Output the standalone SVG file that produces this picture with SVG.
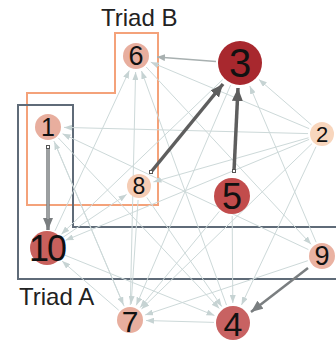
<svg xmlns="http://www.w3.org/2000/svg" width="336" height="344" viewBox="0 0 336 344">
<style>
.e{stroke:#cdd9d9;stroke-width:1;fill:none;marker-end:url(#al)}
.lab{font-family:"Liberation Sans",Arial,sans-serif;fill:#111;text-anchor:middle;dominant-baseline:central}
.title{font-family:"Liberation Sans",Arial,sans-serif;fill:#222;font-size:24px}
.sq{fill:#fff;stroke:#555;stroke-width:1}
</style>
<defs>
<marker id="al" markerUnits="userSpaceOnUse" markerWidth="8" markerHeight="6" refX="8" refY="3" orient="auto"><path d="M0,0 L8,3 L0,6 z" fill="#c6d3d3"/></marker>
<marker id="ad" markerUnits="userSpaceOnUse" markerWidth="13" markerHeight="11" refX="13" refY="5.5" orient="auto"><path d="M0,0 L13,5.5 L0,11 z" fill="#5e5e5e"/></marker>
<marker id="am" markerUnits="userSpaceOnUse" markerWidth="12" markerHeight="10" refX="12" refY="5" orient="auto"><path d="M0,0 L12,5 L0,10 z" fill="#7a7e80"/></marker>
<marker id="ag" markerUnits="userSpaceOnUse" markerWidth="8" markerHeight="7" refX="8" refY="3.5" orient="auto"><path d="M0,0 L8,3.5 L0,7 z" fill="#a8b0b0"/></marker>
</defs>
<rect width="336" height="344" fill="#fff"/>
<g id="groups">
<polygon points="115,33 158,33 158,205 27,205 27,93 115,93" fill="none" stroke="#f4a27a" stroke-width="2"/>
<polygon points="18,105 73,105 73,227 345,227 345,279 18,279" fill="none" stroke="#5f6b78" stroke-width="2"/>
<text class="title" x="101" y="26">Triad B</text>
<text class="title" x="19" y="305">Triad A</text>
</g>
<g id="connectors">
<line class="e" x1="308" y1="133.6" x2="64" y2="127.4"/>
<line class="e" x1="124.1" y1="306.2" x2="54.3" y2="141.7"/>
<line class="e" x1="53.9" y1="141" x2="123.5" y2="305"/>
<line class="e" x1="308.4" y1="249.6" x2="62.5" y2="133.8"/>
<line class="e" x1="55" y1="230.8" x2="129.3" y2="70.5"/>
<line class="e" x1="130.3" y1="305" x2="135.6" y2="72"/>
<line class="e" x1="226.5" y1="305.1" x2="141.5" y2="71"/>
<line class="e" x1="309.1" y1="128.6" x2="150.8" y2="62.2"/>
<line class="e" x1="311.4" y1="124.8" x2="258.9" y2="79.4"/>
<line class="e" x1="316.1" y1="242.2" x2="249.8" y2="86"/>
<line class="e" x1="230.6" y1="85.1" x2="136.3" y2="305.3"/>
<line class="e" x1="309.1" y1="139.4" x2="65.5" y2="240.3"/>
<line class="e" x1="62.8" y1="237.4" x2="126.6" y2="194.4"/>
<line class="e" x1="118.7" y1="310.2" x2="62.1" y2="261.1"/>
<line class="e" x1="64.6" y1="255.1" x2="214.5" y2="315.5"/>
<line class="e" x1="311.9" y1="143.7" x2="141.5" y2="308.9"/>
<line class="e" x1="232.2" y1="216" x2="232.8" y2="303"/>
<line class="e" x1="316" y1="146.7" x2="241.5" y2="304.9"/>
<line class="e" x1="214" y1="322.4" x2="146" y2="320.5"/>
<line class="e" x1="307.8" y1="260.7" x2="145.2" y2="314.9"/>
<line class="e" x1="138.1" y1="200" x2="131.1" y2="304"/>
<line class="e" x1="308.5" y1="137.8" x2="153.4" y2="181.9"/>
<line class="e" x1="58.3" y1="137.9" x2="219.3" y2="308.5"/>
<line class="e" x1="219.3" y1="211.4" x2="140.2" y2="307.6"/>
<line class="e" x1="146.2" y1="67" x2="311.1" y2="244.3"/>
<line class="e" x1="146.9" y1="197.5" x2="221.7" y2="306.5"/>
<line class="e" x1="222.7" y1="79.6" x2="61.4" y2="234.2"/>
<line x1="216" y1="61.5" x2="157" y2="57" stroke="#a8b0b0" stroke-width="1.5" marker-end="url(#ag)"/>
<line x1="48" y1="147" x2="48" y2="230" stroke="#7a7e80" stroke-width="3.5" marker-end="url(#am)"/>
<line x1="48" y1="148" x2="48" y2="219" stroke="#b4b8b8" stroke-width="1.2"/>
<line x1="151" y1="172" x2="223" y2="84" stroke="#5e5e5e" stroke-width="3.5" marker-end="url(#ad)"/>
<line x1="234" y1="171" x2="238" y2="88" stroke="#5e5e5e" stroke-width="3.5" marker-end="url(#ad)"/>
<line x1="308" y1="268" x2="251" y2="312" stroke="#7a7e80" stroke-width="2.5" marker-end="url(#am)"/>
<rect class="sq" x="46.5" y="145.5" width="3" height="3"/>
<rect class="sq" x="149.5" y="170.5" width="3" height="3"/>
<rect class="sq" x="232.5" y="169.5" width="3" height="3"/>
</g>
<g id="node1"><circle cx="48" cy="127" r="13" fill="#e8ae9e"/><text class="lab" x="48" y="127" font-size="25">1</text></g>
<g id="node2"><circle cx="322" cy="134" r="12" fill="#f8d6bd"/><text class="lab" x="322" y="134" font-size="22">2</text></g>
<g id="node3"><circle cx="240" cy="63" r="22" fill="#a8282e"/><text class="lab" x="240" y="63" font-size="40">3</text></g>
<g id="node4"><circle cx="233" cy="323" r="17" fill="#c86262"/><text class="lab" x="233" y="324" font-size="34">4</text></g>
<g id="node5"><circle cx="232" cy="196" r="18" fill="#c24c4c"/><text class="lab" x="232" y="196" font-size="36">5</text></g>
<g id="node6"><circle cx="136" cy="56" r="13" fill="#e8ae9e"/><text class="lab" x="136" y="56" font-size="27">6</text></g>
<g id="node7"><circle cx="130" cy="320" r="13" fill="#e8ae9e"/><text class="lab" x="130" y="321" font-size="30">7</text></g>
<g id="node8"><circle cx="139" cy="186" r="12" fill="#f5ccb4"/><text class="lab" x="139" y="186" font-size="23">8</text></g>
<g id="node9"><circle cx="322" cy="256" r="13" fill="#eab2a2"/><text class="lab" x="322" y="256" font-size="27">9</text></g>
<g id="node10"><circle cx="47" cy="248" r="17" fill="#c8605c"/><text class="lab" x="47" y="248" font-size="36" letter-spacing="-2">10</text></g>
</svg>
